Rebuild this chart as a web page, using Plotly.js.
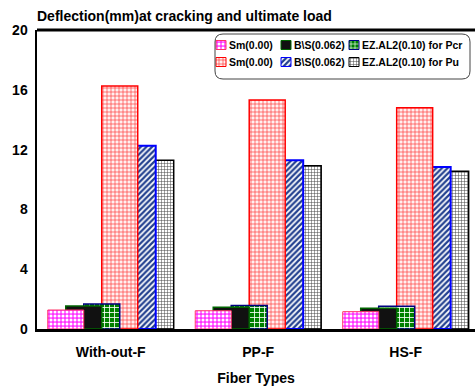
<!DOCTYPE html>
<html>
<head>
<meta charset="utf-8">
<script src="https://cdn.plot.ly/plotly-3.0.1.min.js"></script>
<style>html,body{margin:0;padding:0;background:#fff;}#chart{width:475px;height:391px;}</style>
</head>
<body>
<div id="chart"></div>
<script>
// ---- data ----
const categories = ["With-out-F", "PP-F", "HS-F"];
const seriesNames = ["Sm(0.00)", "B\\S(0.062)", "EZ.AL2(0.10) for Pcr", "Sm(0.00)", "B\\S(0.062)", "EZ.AL2(0.10) for Pu"];
const smPcr  = [1.27, 1.22, 1.16];
const bsPcr  = [1.54, 1.45, 1.38];
const ezPcr  = [1.67, 1.58, 1.52];
const smPu   = [16.25, 15.32, 14.80];
const bsPu   = [12.26, 11.28, 10.84];
const ezPu   = [11.28, 10.92, 10.55];
const yTicks = [0, 4, 8, 12, 16, 20];

// ---- styles ----
const styles = [
  {color:'#ff33ff', line:{color:'#ff3366', width:1}, pattern:{shape:'.', fgcolor:'#ffffff', bgcolor:'#ff33ff', size:4, solidity:0.45}},
  {color:'#111111', line:{color:'#006400', width:1.5}},
  {color:'#008000', line:{color:'#000080', width:1.5}, pattern:{shape:'+', fgcolor:'#ffffff', bgcolor:'#008000', size:5, solidity:0.3}},
  {color:'#ff0000', line:{color:'#ff0000', width:1.5}, pattern:{shape:'+', fgcolor:'#ff3333', bgcolor:'#fff0f0', size:4, solidity:0.3}},
  {color:'#1a3a8a', line:{color:'#0000ff', width:2}, pattern:{shape:'/', fgcolor:'#22408f', bgcolor:'#ffffff', size:4, solidity:0.55}},
  {color:'#444444', line:{color:'#000000', width:1.5}, pattern:{shape:'+', fgcolor:'#444444', bgcolor:'#ffffff', size:3, solidity:0.3}}
];
const values = [smPcr, bsPcr, ezPcr, smPu, bsPu, ezPu];

const step = 0.122, barW = 2 * step, firstOff = -3.5 * step;
const FONT = '"Liberation Sans", Arial, sans-serif';

const traces = [];
// draw in reverse order so earlier series sit on top (as in the reference)
for (let i = 5; i >= 0; i--) {
  const s = styles[i];
  const marker = {color: s.color, line: s.line};
  if (s.pattern) marker.pattern = Object.assign({fillmode:'replace'}, s.pattern);
  traces.push({
    type:'bar', name: seriesNames[i], x: categories, y: values[i],
    width: categories.map(() => barW), offset: categories.map(() => firstOff + i * step),
    marker: marker, showlegend:false, hoverinfo:'y'
  });
}

// custom legend (pixel-unit helper axes)
const legCols = [216, 281, 349];
const legRows = [40.5, 57.5];
const swW = 10, swH = 9;
const annotations = [];
for (let i = 0; i < 6; i++) {
  const col = i % 3, row = Math.floor(i / 3);
  const s = styles[i];
  const marker = {color: s.color, line: {color: s.line.color, width: 1}};
  if (s.pattern) marker.pattern = Object.assign({fillmode:'replace'}, s.pattern, {size: Math.min(s.pattern.size, 4)});
  traces.push({
    type:'bar', x:[legCols[col] + swW / 2], y:[swH], base:[legRows[row]], width:[swW],
    xaxis:'x2', yaxis:'y2', marker: marker, showlegend:false, hoverinfo:'skip'
  });
  annotations.push({
    xref:'x2', yref:'y2', x: legCols[col] + swW + 1, y: legRows[row] + swH / 2,
    text: '<b>' + seriesNames[i] + '</b>', showarrow:false, xanchor:'left', yanchor:'middle',
    font:{family:FONT, size:10.5, color:'#000'}
  });
}

const boxL = 215, boxR = 470, boxT = 34, boxB = 79, rr = 8;
const boxPath = `M${boxL+rr},${boxT} L${boxR-rr},${boxT} Q${boxR},${boxT} ${boxR},${boxT+rr} L${boxR},${boxB-rr} Q${boxR},${boxB} ${boxR-rr},${boxB} L${boxL+rr},${boxB} Q${boxL},${boxB} ${boxL},${boxB-rr} L${boxL},${boxT+rr} Q${boxL},${boxT} ${boxL+rr},${boxT} Z`;

const layout = {
  width:475, height:391,
  margin:{l:37, r:0, t:30, b:62},
  paper_bgcolor:'#ffffff', plot_bgcolor:'#ffffff',
  barmode:'overlay',
  showlegend:false,
  font:{family:FONT, color:'#000'},
  title:{text:'<b>Deflection(mm)at cracking and ultimate load</b>', x:37/475, xanchor:'left', xref:'container',
         y:1 - 16/391, yanchor:'middle', yref:'container', font:{family:FONT, size:14, color:'#000'}},
  xaxis:{type:'category', range:[-0.5, 2.47], showgrid:false, zeroline:false,
         showline:true, linecolor:'#000', linewidth:2.5, ticks:'', ticklabelstandoff:9,
         tickfont:{family:FONT, size:14, color:'#000', weight:'bold'},
         title:{text:'<b>Fiber Types</b>', font:{family:FONT, size:14, color:'#000'}, standoff:14}},
  yaxis:{range:[0, 20], tickvals:yTicks, ticktext:yTicks.map(String), showgrid:false, zeroline:false,
         showline:true, linecolor:'#000', linewidth:2.5, ticks:'', ticklabelstandoff:4,
         tickfont:{family:FONT, size:14, color:'#000', weight:'bold'}},
  xaxis2:{overlaying:'x', range:[37, 475], anchor:'y2', visible:false, fixedrange:true},
  yaxis2:{overlaying:'y', range:[329, 30], anchor:'x2', visible:false, fixedrange:true},
  shapes:[
    {type:'line', xref:'paper', yref:'paper', x0:0, x1:1, y0:1, y1:1, line:{color:'#000', width:3}},
    {type:'path', xref:'x2', yref:'y2', path: boxPath, line:{color:'#444', width:1}, fillcolor:'rgba(0,0,0,0)', layer:'above'}
  ],
  annotations: annotations
};

Plotly.newPlot('chart', traces, layout, {staticPlot:true, displayModeBar:false});
</script>
</body>
</html>
